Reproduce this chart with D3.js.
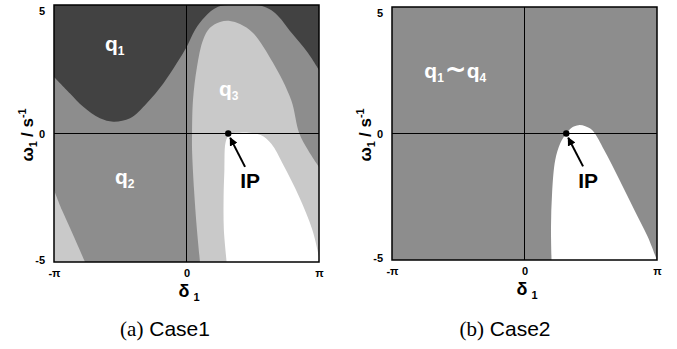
<!DOCTYPE html>
<html><head><meta charset="utf-8">
<script src="https://cdn.jsdelivr.net/npm/d3@7"></script>
<style>body{margin:0;background:#fff}svg{display:block}</style>
</head><body>
<script>
// ---- data (delta in units of pi, omega in s^-1) ----
const deltaTicks = [-1, 0, 1];
const deltaTickLabels = ["-π", "0", "π"];
const omegaTicks = [-5, 0, 5];
const omegaTickLabels = ["-5", "0", "5"];

// Case1 boundary between q1 (dark, above) and the rest
const case1DarkBoundary = [[-1.0,2.20],[-0.879,1.56],[-0.779,1.04],[-0.653,0.59],[-0.552,0.46],[-0.426,0.59],[-0.300,1.18],[-0.175,1.95],[-0.074,2.73],[0.002,3.38],[0.064,4.03],[0.140,4.54],[0.238,4.93],[0.404,5.0],[0.570,4.96],[0.668,4.69],[0.794,3.91],[0.917,3.13],[1.0,2.47]];
// Case1 outer boundary of q3 (light)
const case1LightBoundary = [[0.102,-5.0],[0.079,-3.75],[0.057,-2.20],[0.042,-0.64],[0.042,0.02],[0.049,1.30],[0.079,2.59],[0.125,3.64],[0.177,4.11],[0.253,4.34],[0.328,4.38],[0.404,4.26],[0.502,3.91],[0.653,2.75],[0.790,1.30],[0.850,0.02],[0.917,-0.64],[1.0,-1.30]];
// Case1 light wedge at lower-left corner
const case1CornerBoundary = [[-1.0,-2.20],[-0.940,-2.98],[-0.879,-3.68],[-0.819,-4.38],[-0.766,-5.0]];
// Case1 stable (white) region
const case1WhiteBoundary = [[0.303,-5.0],[0.282,-3.75],[0.280,-2.46],[0.286,-1.40],[0.293,-0.40],[0.312,-0.12],[0.341,0.0],[0.40,0.03],[0.47,0.03],[0.56,-0.06],[0.640,-0.40],[0.728,-1.20],[0.850,-2.46],[0.950,-3.75],[1.0,-4.8]];
// Case2 stable (white) region
const case2WhiteBoundary = [[0.204,-5.0],[0.200,-3.69],[0.208,-2.37],[0.232,-1.05],[0.270,-0.39],[0.315,0.0],[0.361,0.25],[0.408,0.33],[0.459,0.29],[0.512,0.13],[0.602,-0.66],[0.705,-1.71],[0.830,-3.03],[0.930,-4.08],[0.990,-4.87],[1.0,-5.0]];

const ipPoint = [0.315, 0];
const ipArrow = [[0.442,-1.30],[0.330,-0.17]];
const ipLabel = [0.405, -2.14];

const case1Labels = [{t:"q",s:"1",p:[-0.615,3.21]},{t:"q",s:"2",p:[-0.540,-1.95]},{t:"q",s:"3",p:[0.245,1.46]}];
const case2Labels = [{t:"q",s:"1",t2:"q",s2:"4",p:[-0.756,2.20]}];

const captions = ["(a)", "(b)"];
const captionNames = ["Case1", "Case2"];

// ---- colors ----
const DARK = "#424242", MID = "#8d8d8d", LIGHT = "#c9c9c9", WHITE = "#ffffff";

const W = 677, H = 349;
const FONT = "Liberation Sans, Arial, sans-serif";
const svg = d3.select("body").append("svg").attr("width", W).attr("height", H);
const defs = svg.append("defs");
defs.append("marker").attr("id","ah").attr("viewBox","0 0 10 10").attr("refX",9).attr("refY",5)
  .attr("markerWidth",4.2).attr("markerHeight",4.2).attr("orient","auto")
  .append("path").attr("d","M0,0L10,5L0,10Z").attr("fill","#000");

function panel(idx, frame, regions, labels, capX){
  const x = d3.scaleLinear().domain([-1,1]).range([frame.l, frame.r]);
  const y = d3.scaleLinear().domain([-5,5]).range([frame.b, frame.t]);
  const g = svg.append("g");
  const cid = "clip"+idx;
  defs.append("clipPath").attr("id",cid).append("rect")
    .attr("x",frame.l).attr("y",frame.t).attr("width",frame.r-frame.l).attr("height",frame.b-frame.t);
  const pg = g.append("g").attr("clip-path",`url(#${cid})`);
  pg.append("rect").attr("x",frame.l).attr("y",frame.t).attr("width",frame.r-frame.l).attr("height",frame.b-frame.t).attr("fill",MID);
  const line = d3.line().x(d=>x(d[0])).y(d=>y(d[1])).curve(d3.curveCatmullRom);
  regions.forEach(r=>{
    const corners = r.corners.map(c=>`L${x(c[0])},${y(c[1])}`).join("");
    pg.append("path").attr("d", line(r.pts)+corners+"Z").attr("fill", r.fill);
  });
  // zero lines
  pg.append("line").attr("x1",x(0)).attr("x2",x(0)).attr("y1",frame.t).attr("y2",frame.b).attr("stroke","#000").attr("stroke-width",1);
  pg.append("line").attr("x1",frame.l).attr("x2",frame.r).attr("y1",y(0)).attr("y2",y(0)).attr("stroke","#000").attr("stroke-width",1);
  // frame
  g.append("rect").attr("x",frame.l).attr("y",frame.t).attr("width",frame.r-frame.l).attr("height",frame.b-frame.t)
    .attr("fill","none").attr("stroke","#000").attr("stroke-width",1.5);

  // region labels
  labels.forEach(lb=>{
    const t = g.append("text").attr("x",x(lb.p[0])).attr("y",y(lb.p[1]))
      .attr("font-family",FONT).attr("font-weight","bold").attr("font-size",21).attr("fill","#fff");
    t.append("tspan").text(lb.t);
    t.append("tspan").attr("font-size",12).attr("dy",4).text(lb.s);
    if(lb.t2){
      t.append("tspan").attr("dy",-4).attr("dx",1).attr("font-size",26).attr("font-family","DejaVu Sans, sans-serif").text("~");
      t.append("tspan").attr("dx",0).attr("font-size",21).text(lb.t2);
      t.append("tspan").attr("font-size",12).attr("dy",4).text(lb.s2);
    }
  });

  // IP
  g.append("line").attr("x1",x(ipArrow[0][0])).attr("y1",y(ipArrow[0][1])).attr("x2",x(ipArrow[1][0])).attr("y2",y(ipArrow[1][1]))
    .attr("stroke","#000").attr("stroke-width",2).attr("marker-end","url(#ah)");
  g.append("circle").attr("cx",x(ipPoint[0])).attr("cy",y(ipPoint[1])).attr("r",3.2).attr("fill","#000");
  g.append("text").attr("x",x(ipLabel[0])).attr("y",y(ipLabel[1])).text("IP")
    .attr("font-family",FONT).attr("font-weight","bold").attr("font-size",21).attr("fill","#000");

  // axes (labels only)
  const xa = d3.axisBottom(x).tickValues(deltaTicks).tickFormat((d,i)=>deltaTickLabels[i]).tickSize(0).tickPadding(7);
  const xg = g.append("g").attr("transform",`translate(0,${frame.b})`).call(xa);
  xg.select(".domain").remove();
  xg.selectAll("text").attr("font-family",FONT).attr("font-weight","bold").attr("font-size",11).attr("fill","#000");
  const ya = d3.axisLeft(y).tickValues(omegaTicks).tickFormat((d,i)=>omegaTickLabels[i]).tickSize(0).tickPadding(9);
  const yg = g.append("g").attr("transform",`translate(${frame.l},0)`).call(ya);
  yg.select(".domain").remove();
  yg.selectAll("text").attr("font-family",FONT).attr("font-weight","bold").attr("font-size",11).attr("fill","#000");
  yg.selectAll(".tick").filter(d=>d===5).select("text").attr("dy","0.9em");
  yg.selectAll(".tick").filter(d=>d===-5).select("text").attr("dy","0.1em");

  // axis titles
  const xt = g.append("text").attr("x",x(0)-8).attr("y",frame.b+35)
    .attr("font-family",FONT).attr("font-weight","bold").attr("font-size",18);
  xt.append("tspan").text("δ");
  xt.append("tspan").attr("dx",4).attr("dy",4).attr("font-size",11).text("1");
  const yt = g.append("text").attr("transform",`translate(${frame.l-21},${(frame.t+frame.b)/2+28}) rotate(-90)`)
    .attr("font-family",FONT).attr("font-weight","bold").attr("font-size",17);
  yt.append("tspan").text("ω");
  yt.append("tspan").attr("dy",4).attr("font-size",11).text("1");
  yt.append("tspan").attr("dy",-4).attr("dx",4).text("/ s");
  yt.append("tspan").attr("dy",-7).attr("font-size",11).text("-1");

  // caption
  const cap = svg.append("text").attr("x",capX).attr("y",336).attr("text-anchor","middle").attr("font-size",21);
  cap.append("tspan").attr("font-family","Liberation Serif, Times New Roman, serif").text(captions[idx]);
  cap.append("tspan").attr("font-family",FONT).text(" "+captionNames[idx]);
}

panel(0, {l:54, r:319, t:5, b:262}, [
  {pts: case1DarkBoundary, corners: [[1,5.2],[-1,5.2]], fill: DARK},
  {pts: case1LightBoundary, corners: [[1,-5.2]], fill: LIGHT},
  {pts: case1WhiteBoundary, corners: [[1,-5.2]], fill: WHITE},
  {pts: case1CornerBoundary, corners: [[-1,-5.2]], fill: LIGHT}
], case1Labels, 165);

panel(1, {l:392, r:657, t:7, b:260}, [
  {pts: case2WhiteBoundary, corners: [[1,-5.2]], fill: WHITE}
], case2Labels, 505);
</script>
</body></html>
